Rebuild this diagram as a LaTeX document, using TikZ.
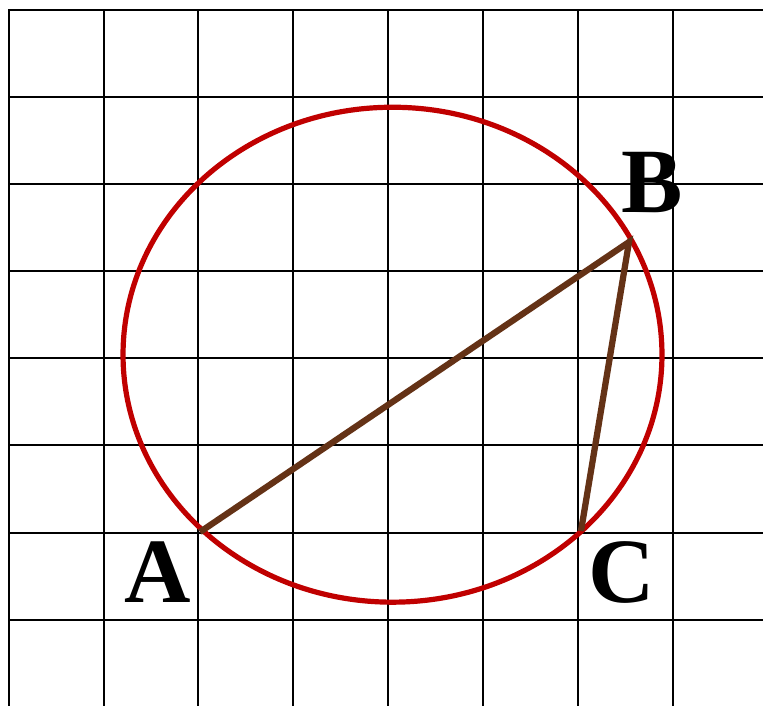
\documentclass[tikz,border=0pt]{standalone}
\usepackage{fontspec}
\setmainfont{Liberation Serif}
\begin{document}
\begin{tikzpicture}[x=0.75pt,y=-0.75pt,
  gridline/.style={line width=1.6pt,black},
  circ/.style={line width=3.9pt,draw={rgb,255:red,192;green,0;blue,0}},
  side/.style={line width=4.7pt,draw={rgb,255:red,100;green,50;blue,22}},
  lbl/.style={font=\fontsize{69}{69}\selectfont\bfseries,inner sep=0pt}]
\useasboundingbox (0,0) rectangle (763,706);
\fill[white] (0,0) rectangle (763,706);
% grid
\foreach \x in {9,104,198,293,388,483,578,673}
  \draw[gridline] (\x,10) -- (\x,706);
\foreach \y in {97,184,271,358,445,533,620}
  \draw[gridline] (9,\y) -- (763,\y);
\draw[gridline,line width=2.2pt] (8,10) -- (763,10);
% circle
\draw[circ] (392.5,354.7) ellipse [x radius=202.1pt, y radius=185.6pt];
% triangle
\coordinate (pA) at (200,532);
\coordinate (pB) at (629,242);
\coordinate (pC) at (581,531);
\draw[side] (pA) -- (pB) -- (pC);
% labels
\node[lbl] (A) at (158,572) {A};
\node[lbl] (B) at (652,183) {B};
\node[lbl] (C) at (622,572) {C};
\end{tikzpicture}
\end{document}
